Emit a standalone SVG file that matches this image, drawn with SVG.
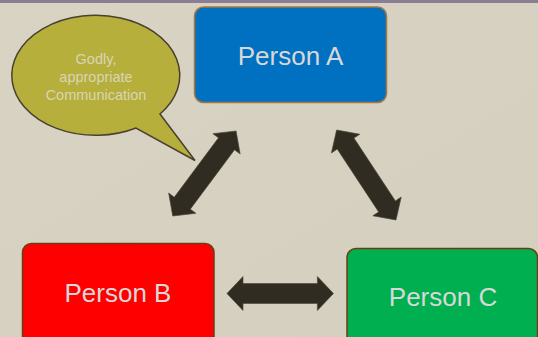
<svg xmlns="http://www.w3.org/2000/svg" width="538" height="337" viewBox="0 0 538 337">
  <defs>
    <linearGradient id="bg" x1="0" y1="0" x2="1" y2="1">
      <stop offset="0" stop-color="#d9d3c4"/>
      <stop offset="1" stop-color="#d5cfbf"/>
    </linearGradient>
    <polygon id="dbl" points="-53,0 -37,-17 -37,-10 37,-10 37,-17 53,0 37,17 37,10 -37,10 -37,17"/>
  </defs>
  <style>
    .box { stroke-width: 1.5; }
    .lbl { font-family: "Liberation Sans", Arial, sans-serif; font-size: 26px; fill: #d8d8d8; text-anchor: middle; }
    .bub { font-family: "Liberation Sans", Arial, sans-serif; font-size: 14.5px; fill: #d9d5b6; text-anchor: middle; }
    .arrow { fill: #312c21; stroke: #4a4436; stroke-width: 0.6; }
  </style>
  <rect width="538" height="337" fill="url(#bg)"/>
  <rect width="538" height="3" fill="#8b7e94"/>

  <g id="bubble">
    <path d="M160,114 L195,160.5 L136,128 A84 60 0 1 1 160,114 Z" fill="#b6af3b" stroke="#4a4030" stroke-width="1.5" stroke-linejoin="miter"/>
    <text class="bub" x="96" y="64">Godly,</text>
    <text class="bub" x="96" y="82">appropriate</text>
    <text class="bub" x="96" y="100">Communication</text>
  </g>

  <g id="personA">
    <rect class="box" x="194.5" y="7" width="192" height="95.5" rx="9" fill="#0070c0" stroke="#a8773f"/>
    <text class="lbl" x="290.5" y="64.5">Person A</text>
  </g>

  <g id="personB">
    <rect class="box" x="22.5" y="243.5" width="191.5" height="110" rx="9" fill="#ff0000" stroke="#6b3d12"/>
    <text class="lbl" x="118" y="302">Person B</text>
  </g>

  <g id="personC">
    <rect class="box" x="347" y="248.5" width="190.5" height="110" rx="9" fill="#00b050" stroke="#6b3d12"/>
    <text class="lbl" x="443" y="305.5">Person C</text>
  </g>

  <g id="connectors">
    <use href="#dbl" class="arrow" transform="translate(204.4,173.5) rotate(-53.3)"/>
    <use href="#dbl" class="arrow" transform="translate(366.3,175) rotate(56.6) scale(1.017,1)"/>
    <use href="#dbl" class="arrow" transform="translate(280.2,293.5) scale(1.005,1)"/>
  </g>
</svg>
